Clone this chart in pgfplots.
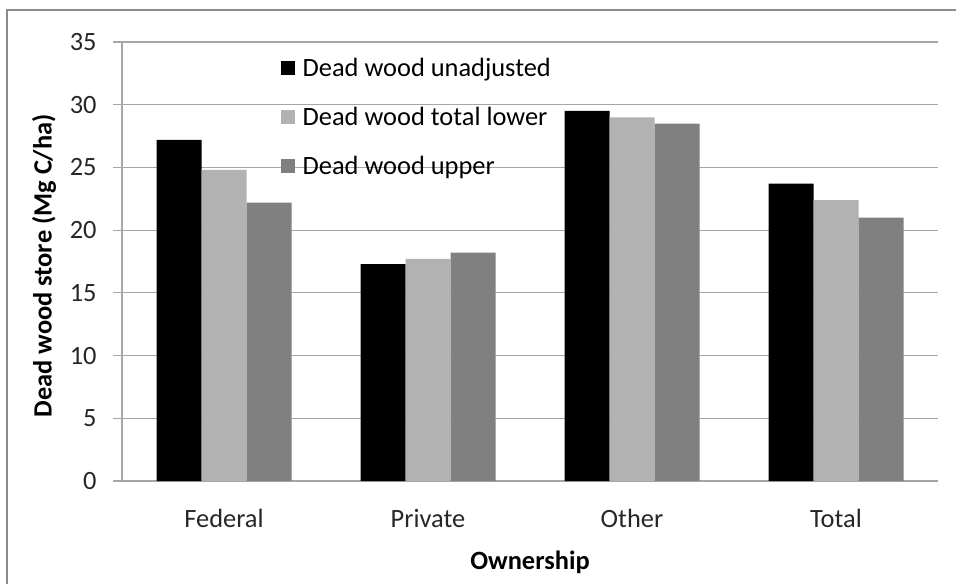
\documentclass[border=0pt]{standalone}
\usepackage{fontspec}
\setmainfont{Carlito}
\usepackage{pgfplots}
\pgfplotsset{compat=1.18}

\definecolor{gridgray}{HTML}{A6A6A6}
\definecolor{lightbar}{HTML}{B2B2B2}
\definecolor{darkbar}{HTML}{808080}
\definecolor{framegray}{HTML}{8C8C8C}

\pgfplotstableread{
x unadj lower upper
0 27.2 24.8 22.2
1 17.3 17.7 18.2
2 29.5 29.0 28.5
3 23.7 22.4 21.0
}\deadwood

\begin{document}
% 1 px of the reference = 0.5pt
\begin{tikzpicture}
\useasboundingbox (-61pt,-51pt) rectangle (417pt,240.5pt);
\draw[framegray, line width=0.8pt] (-57.6pt,-60pt) -- (-57.6pt,235.5pt) -- (430pt,235.5pt);
\begin{axis}[
  at={(0pt,0pt)}, anchor=south west,
  scale only axis,
  width=408pt, height=219.5pt,
  ybar=0pt, bar width=22.5pt,
  xmin=-0.5, xmax=3.5,
  ymin=0, ymax=35,
  ytick={0,5,...,35},
  xtick={0,1,2,3},
  xticklabels={Federal,Private,Other,Total},
  x tick style={draw=none},
  extra x ticks={-0.5,0.5,1.5,2.5,3.5},
  extra x tick labels={},
  extra x tick style={major tick length=4.5pt, tick align=outside, tick style={draw=gridgray, line width=0.6pt}},
  ytick align=outside, major tick length=4.5pt,
  y tick style={draw=gridgray, line width=0.6pt},
  axis x line*=bottom, axis y line*=left,
  axis line style={draw=gridgray, line width=0.6pt, -},
  ymajorgrids,
  grid style={draw=gridgray, line width=0.6pt},
  /pgf/number format/assume math mode=true,
  tick label style={font=\fontsize{13.2}{15}\selectfont, text=black!85},
  yticklabel style={anchor=east, inner sep=0pt, xshift=-8pt},
  xticklabel style={anchor=base, inner sep=0pt, yshift=-18.5pt},
  xlabel={\textbf{Ownership}},
  ylabel={\textbf{Dead wood store (Mg C/ha)}},
  label style={font=\fontsize{13.2}{15}\selectfont},
  xlabel style={at={(axis description cs:0.5,0)}, anchor=center, yshift=-40.5pt},
  ylabel style={at={(axis description cs:-0.0955,0.49)}, anchor=center},
  legend image code/.code={\fill[#1] (0pt,-3.5pt) rectangle (7pt,3.5pt);},
  legend style={at={(0.194,0.974)}, anchor=north west, draw=none, fill=none,
    font=\fontsize{13.2}{15}\selectfont, row sep=9.8pt, inner sep=0pt,
    nodes={inner sep=2pt}},
  legend cell align=left,
]
\addplot[fill=black, draw=none] table[x=x, y=unadj] {\deadwood};
\addlegendentry{\hspace{2pt}Dead wood unadjusted}
\addplot[fill=lightbar, draw=none] table[x=x, y=lower] {\deadwood};
\addlegendentry{\hspace{2pt}Dead wood total lower}
\addplot[fill=darkbar, draw=none] table[x=x, y=upper] {\deadwood};
\addlegendentry{\hspace{2pt}Dead wood upper}
\end{axis}
\end{tikzpicture}
\end{document}
